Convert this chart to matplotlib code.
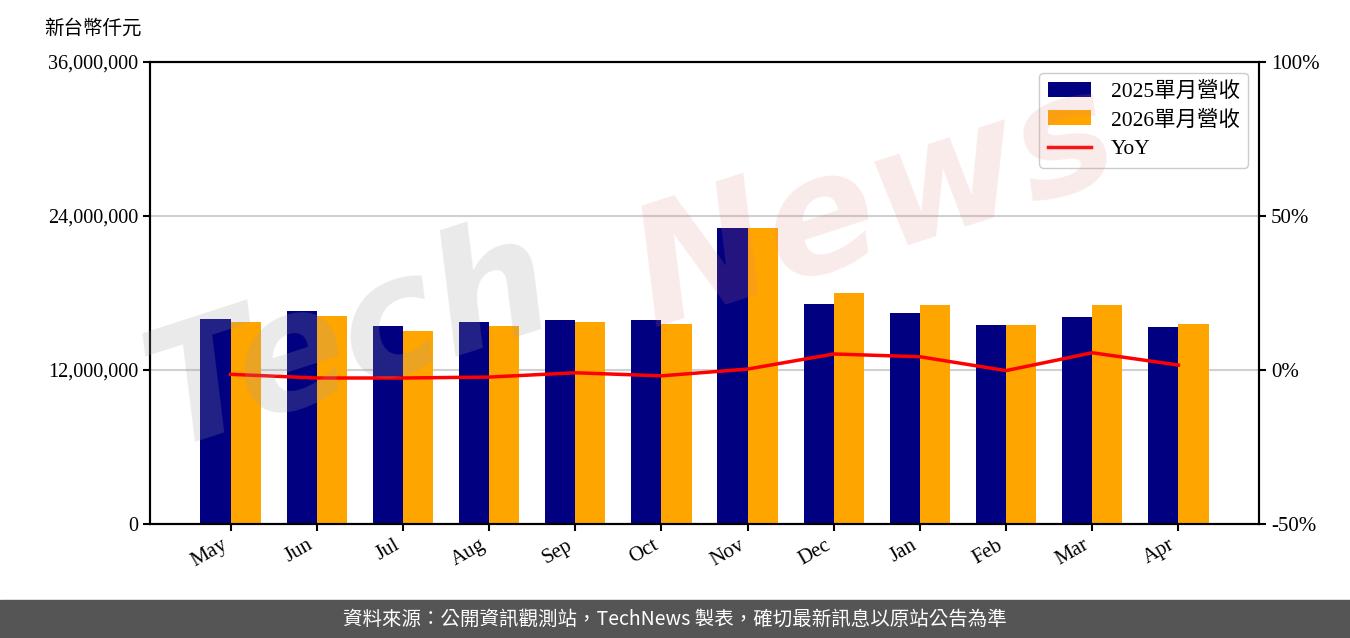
import numpy as np
import matplotlib
matplotlib.use("Agg")
import matplotlib.pyplot as plt
from matplotlib.ticker import FuncFormatter

plt.rcParams['font.family'] = ['Liberation Serif', 'Noto Sans CJK TC']

months = ["May", "Jun", "Jul", "Aug", "Sep", "Oct", "Nov", "Dec", "Jan", "Feb", "Mar", "Apr"]
rev_2025 = [15970000, 16600000, 15430000, 15740000, 15900000, 15900000,
            23070000, 17140000, 16440000, 15510000, 16130000, 15350000]
rev_2026 = [15740000, 16210000, 15040000, 15430000, 15740000, 15580000,
            23070000, 18000000, 17070000, 15510000, 17070000, 15580000]
yoy = [-1.4, -2.6, -2.6, -2.3, -0.9, -1.9, 0.3, 5.2, 4.3, -0.2, 5.6, 1.6]

fig = plt.figure(figsize=(13.5, 6.38), dpi=100)
ax = fig.add_axes([0.1111, 0.1787, 0.8215, 0.7241])
x = np.arange(len(months))
w = 0.35

b1 = ax.bar(x - w / 2, rev_2025, w, color="#000080", label="2025單月營收", zorder=2)
b2 = ax.bar(x + w / 2, rev_2026, w, color="#FFA500", label="2026單月營收", zorder=2)
ax.set_ylim(0, 36000000)
ax.set_yticks([0, 12000000, 24000000, 36000000])
ax.yaxis.set_major_formatter(FuncFormatter(lambda v, p: f"{int(v):,}"))
ax.grid(axis="y", color="#d0d0d0", linewidth=1.5, zorder=0)
ax.set_xticks(x)
ax.set_xticklabels(months, rotation=30, ha="right")
ax.tick_params(labelsize=15, width=1.5, length=5)
ax.tick_params(axis="y", labelsize=14.5)

ax2 = ax.twinx()
ln, = ax2.plot(x, yoy, color="red", linewidth=2.5, label="YoY", zorder=3)
ax2.set_ylim(-50, 100)
ax2.set_yticks([-50, 0, 50, 100])
ax2.yaxis.set_major_formatter(FuncFormatter(lambda v, p: f"{int(v)}%"))
ax2.tick_params(labelsize=15, width=1.5, length=5)

for a in (ax, ax2):
    for s in a.spines.values():
        s.set_linewidth(1.5)

ax2.legend([b1, b2, ln], ["2025單月營收", "2026單月營收", "YoY"], loc="upper right",
           fontsize=15.5, framealpha=1, edgecolor="#cccccc", handlelength=2.0,
           handletextpad=0.9, labelspacing=0.4)

fig.text(0.033, 0.955, "新台幣仟元", fontsize=14, ha="left", va="center")

# watermark
fig.text(0.095, 0.30, "Tech", fontsize=118, rotation=18, color="#a0a0a0", alpha=0.22,
         family="DejaVu Sans", style="italic", weight="bold", zorder=10)
fig.text(0.455, 0.49, "News", fontsize=118, rotation=18, color="#e08080", alpha=0.16,
         family="DejaVu Sans", style="italic", weight="bold", zorder=10)

# footer
fig.patches.append(plt.Rectangle((0, 0), 1, 38 / 638, transform=fig.transFigure,
                                 color="#555555", zorder=0))
fig.text(0.5, 19 / 638, "資料來源：公開資訊觀測站，TechNews 製表，確切最新訊息以原站公告為準",
         color="white", fontsize=14, ha="center", va="center", family="Noto Sans CJK TC")

fig.savefig("out.png", dpi=100)
